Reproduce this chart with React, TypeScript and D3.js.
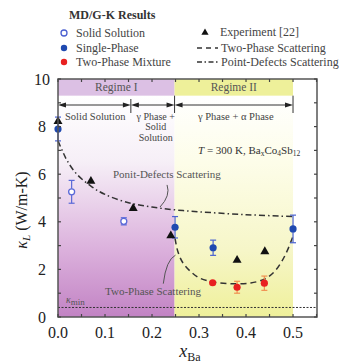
import React from "react";
import * as d3 from "d3";

const W = 341, H = 364;
const M = { left: 58, right: 317, top: 79, bottom: 317 };

const xTicks = [0.0, 0.1, 0.2, 0.3, 0.4, 0.5];
const yTicks = [0, 2, 4, 6, 8, 10];

const solidX = [0.029, 0.14];
const solidY = [5.26, 4.02];
const solidErr = [0.48, 0.15];

const singleX = [0.0, 0.249, 0.33, 0.5];
const singleY = [7.9, 3.77, 2.91, 3.7];
const singleErr = [0.5, 0.45, 0.32, 0.58];

const mixX = [0.329, 0.381, 0.439];
const mixY = [1.44, 1.25, 1.42];
const mixErr = [0.05, 0.25, 0.3];

const expX = [0.0, 0.07, 0.16, 0.24, 0.381, 0.44];
const expY = [8.25, 5.74, 4.6, 3.45, 2.42, 2.78];

const pdX = [0, 0.01, 0.02, 0.04, 0.07, 0.1, 0.15, 0.2, 0.25, 0.3, 0.4, 0.5];
const pdY = [7.4, 6.95, 6.55, 6.0, 5.5, 5.15, 4.8, 4.62, 4.5, 4.42, 4.3, 4.22];

const tpX = [0.249, 0.255, 0.265, 0.28, 0.3, 0.33, 0.37, 0.41, 0.44, 0.46, 0.475, 0.488, 0.5];
const tpY = [3.3, 2.75, 2.3, 1.95, 1.65, 1.47, 1.4, 1.43, 1.6, 1.9, 2.3, 2.8, 3.4];

const kMin = 0.4;
const regimeBoundaries = [0, 0.155, 0.248, 0.5];

const SERIF = "'Liberation Serif', 'Times New Roman', Times, 'DejaVu Serif', serif";

export default function App() {
  const x = d3.scaleLinear().domain([0, 0.551]).range([M.left, M.right]);
  const y = d3.scaleLinear().domain([0, 10]).range([M.bottom, M.top]);
  const line = d3.line<[number, number]>().x(d => x(d[0])).y(d => y(d[1])).curve(d3.curveCatmullRom);
  const pdPath = line(pdX.map((v, i) => [v, pdY[i]]))!;
  const tpPath = line(tpX.map((v, i) => [v, tpY[i]]))!;
  const bandBottom = y(9.3);
  const xb = regimeBoundaries.map(v => x(v));
  const arrowY = 105;

  const tri = (cx: number, cy: number, s = 4.5) =>
    `M${cx},${cy - s} L${cx + s},${cy + s * 0.75} L${cx - s},${cy + s * 0.75} Z`;

  const errBar = (cx: number, cy: number, e: number, color: string, key: string) => (
    <g key={key} stroke={color} strokeWidth={1.2}>
      <line x1={cx} x2={cx} y1={y(cy - e)} y2={y(cy + e)} />
      <line x1={cx - 3} x2={cx + 3} y1={y(cy - e)} y2={y(cy - e)} />
      <line x1={cx - 3} x2={cx + 3} y1={y(cy + e)} y2={y(cy + e)} />
    </g>
  );

  const arrow = (x1: number, x2: number, key: string) => (
    <g key={key}>
      <line x1={x1 + 6} x2={x2 - 6} y1={arrowY} y2={arrowY} stroke="#333" strokeWidth={1} />
      <path d={`M${x1},${arrowY} L${x1 + 8},${arrowY - 2.5} L${x1 + 8},${arrowY + 2.5} Z`} fill="#222" />
      <path d={`M${x2},${arrowY} L${x2 - 8},${arrowY - 2.5} L${x2 - 8},${arrowY + 2.5} Z`} fill="#222" />
    </g>
  );

  const minorX = d3.range(0, 0.551, 0.05);
  const minorY = d3.range(0, 10.01, 1);
  const midI = (xb[1] + xb[2]) / 2 + 3;

  return (
    <svg width={W} height={H} style={{ position: "absolute", left: 0, top: 0, fontFamily: SERIF }}>
      <defs>
        <linearGradient id="gp" x1="0" y1="0" x2="0" y2="1">
          <stop offset="0" stopColor="#ffffff" />
          <stop offset="0.3" stopColor="#f6eff7" />
          <stop offset="0.7" stopColor="#dbb0dc" />
          <stop offset="1" stopColor="#c283c4" />
        </linearGradient>
        <linearGradient id="gy" x1="0" y1="0" x2="0" y2="1">
          <stop offset="0" stopColor="#ffffff" />
          <stop offset="0.3" stopColor="#fdfde9" />
          <stop offset="0.7" stopColor="#f6f6c8" />
          <stop offset="1" stopColor="#eff09a" />
        </linearGradient>
      </defs>
      <rect width={W} height={H} fill="#fff" />

      {/* Legend */}
      <text x={69} y={19} fontSize={12} fontWeight="bold" fill="#333">MD/G-K Results</text>
      <circle cx={64} cy={33} r={3} fill="#fff" stroke="#4a5fd0" strokeWidth={1.3} />
      <text x={76} y={37} fontSize={12} fill="#444">Solid Solution</text>
      <circle cx={64} cy={48} r={3.2} fill="#1f49b0" />
      <text x={76} y={52} fontSize={12} fill="#444">Single-Phase</text>
      <circle cx={64} cy={62} r={3.2} fill="#e82020" />
      <text x={76} y={66} fontSize={12} fill="#444">Two-Phase Mixture</text>
      <path d={tri(205, 32, 3.6)} fill="#111" />
      <text x={220} y={36} fontSize={12} fill="#444">Experiment [22]</text>
      <line x1={197} x2={218} y1={48} y2={48} stroke="#333" strokeWidth={1.3} strokeDasharray="5,4" />
      <text x={221} y={52} fontSize={12} fill="#444">Two-Phase Scattering</text>
      <line x1={197} x2={218} y1={62} y2={62} stroke="#333" strokeWidth={1.3} strokeDasharray="5,2.5,1.5,2.5" />
      <text x={221} y={66} fontSize={12} fill="#444">Point-Defects Scattering</text>

      {/* background regions */}
      <rect x={xb[0]} y={bandBottom} width={xb[2] - xb[0]} height={M.bottom - bandBottom} fill="url(#gp)" />
      <rect x={xb[2]} y={bandBottom} width={xb[3] - xb[2]} height={M.bottom - bandBottom} fill="url(#gy)" />
      <rect x={xb[0]} y={M.top} width={xb[2] - xb[0]} height={bandBottom - M.top} fill="#dcc0e4" />
      <rect x={xb[2]} y={M.top} width={xb[3] - xb[2]} height={bandBottom - M.top} fill="#eef09a" />
      <text x={(xb[0] + xb[2]) / 2} y={91} fontSize={11.5} textAnchor="middle" fill="#555">Regime I</text>
      <text x={(xb[2] + xb[3]) / 2} y={91} fontSize={11.5} textAnchor="middle" fill="#555">Regime II</text>

      {/* arrows */}
      {[1, 2, 3].map(i => (
        <line key={"vb" + i} x1={xb[i]} x2={xb[i]} y1={i === 1 ? 99 : bandBottom} y2={113} stroke="#333" strokeWidth={1} />
      ))}
      {arrow(xb[0], xb[1], "a1")}
      {arrow(xb[1], xb[2], "a2")}
      {arrow(xb[2], xb[3], "a3")}
      <text x={xb[0] + 7} y={120} fontSize={10.5} fill="#444">Solid Solution</text>
      <text x={midI} y={119.5} fontSize={10} textAnchor="middle" fill="#444">γ Phase +</text>
      <text x={midI} y={130} fontSize={10} textAnchor="middle" fill="#444">Solid</text>
      <text x={midI} y={140.5} fontSize={10} textAnchor="middle" fill="#444">Solution</text>
      <text x={(xb[2] + xb[3]) / 2 + 2} y={120} fontSize={10.5} textAnchor="middle" fill="#444">γ Phase + α Phase</text>
      <text x={198} y={154} fontSize={11} fill="#333">
        <tspan fontStyle="italic">T</tspan> = 300 K, Ba<tspan fontSize={7.5} dy={2}>x</tspan>
        <tspan dy={-2}>Co</tspan><tspan fontSize={7.5} dy={2}>4</tspan><tspan dy={-2}>Sb</tspan>
        <tspan fontSize={7.5} dy={2}>12</tspan>
      </text>

      {/* kmin */}
      <line x1={M.left} x2={M.right} y1={y(kMin)} y2={y(kMin)} stroke="#333" strokeWidth={1} strokeDasharray="2,1.5" />
      <text x={66} y={303} fontSize={10} fill="#555">
        <tspan fontStyle="italic">κ</tspan><tspan fontSize={9} dy={2}>min</tspan>
      </text>

      {/* curves */}
      <path d={pdPath} fill="none" stroke="#333" strokeWidth={1.5} strokeDasharray="6,3,1.5,3" />
      <path d={tpPath} fill="none" stroke="#333" strokeWidth={1.5} strokeDasharray="6,4" />

      {/* annotations */}
      <text x={113} y={178} fontSize={11} fill="#555">Ponit-Defects Scattering</text>
      <path d={`M${x(0.232)},${y(5.55)} Q${x(0.24)},${y(5.1)} ${x(0.217)},${y(4.62)}`} fill="none" stroke="#555" strokeWidth={1} />
      <text x={105} y={295} fontSize={11} fill="#555">Two-Phase Scattering</text>
      <path d={`M${x(0.224)},${y(1.4)} Q${x(0.23)},${y(2.4)} ${x(0.25)},${y(2.6)}`} fill="none" stroke="#555" strokeWidth={1} />

      {/* data */}
      {solidX.map((v, i) => errBar(x(v), solidY[i], solidErr[i], "#5a6ad8", "se" + i))}
      {solidX.map((v, i) => (
        <circle key={"s" + i} cx={x(v)} cy={y(solidY[i])} r={3} fill="#fff" stroke="#5a6ad8" strokeWidth={1.3} />
      ))}
      {singleX.map((v, i) => errBar(x(v), singleY[i], singleErr[i], "#4a62d0", "be" + i))}
      {singleX.map((v, i) => (
        <circle key={"b" + i} cx={x(v)} cy={y(singleY[i])} r={3.6} fill="#1f49b0" />
      ))}
      {mixX.map((v, i) => errBar(x(v), mixY[i], mixErr[i], "#f09050", "me" + i))}
      {mixX.map((v, i) => (
        <circle key={"m" + i} cx={x(v)} cy={y(mixY[i])} r={3.6} fill="#e82020" />
      ))}
      {expX.map((v, i) => (
        <path key={"e" + i} d={tri(x(v), y(expY[i]))} fill="#111" />
      ))}

      {/* frame and ticks */}
      <rect x={M.left} y={M.top} width={M.right - M.left} height={M.bottom - M.top} fill="none" stroke="#555" strokeWidth={1.5} />
      {minorX.map((v, i) => (
        <g key={"tx" + i} stroke="#444" strokeWidth={1.2}>
          <line x1={x(v)} x2={x(v)} y1={M.bottom} y2={M.bottom - 3} />
          <line x1={x(v)} x2={x(v)} y1={M.top} y2={M.top + 3} />
        </g>
      ))}
      {minorY.map((v, i) => (
        <g key={"ty" + i} stroke="#444" strokeWidth={1.2}>
          <line x1={M.left} x2={M.left + 3} y1={y(v)} y2={y(v)} />
          <line x1={M.right} x2={M.right - 3} y1={y(v)} y2={y(v)} />
        </g>
      ))}
      {xTicks.map(v => (
        <text key={"xl" + v} x={x(v)} y={338} fontSize={16} textAnchor="middle" fill="#222">{v.toFixed(1)}</text>
      ))}
      {yTicks.map(v => (
        <text key={"yl" + v} x={42} y={y(v) + 5.5} fontSize={16} textAnchor="middle" fill="#222">{v}</text>
      ))}
      <text transform="translate(27,210) rotate(-90)" fontSize={16} textAnchor="middle" fill="#222">
        <tspan fontStyle="italic">κ</tspan><tspan fontStyle="italic" fontSize={11} dy={3}>L</tspan>
        <tspan dy={-3}> (W/m-K)</tspan>
      </text>
      <text x={190} y={357} fontSize={18} textAnchor="middle" fill="#222">
        <tspan fontStyle="italic">x</tspan><tspan fontSize={12} dy={4}>Ba</tspan>
      </text>
    </svg>
  );
}
